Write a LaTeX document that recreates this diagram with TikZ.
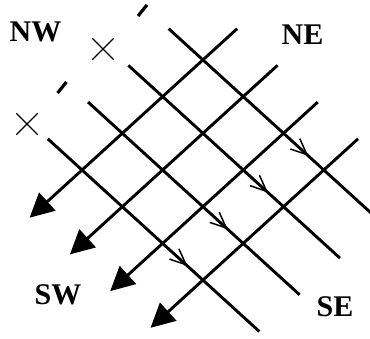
\documentclass[tikz,border=0pt]{standalone}
\usepackage{fontspec}
\setmainfont{Liberation Serif}
\usetikzlibrary{arrows.meta,decorations.markings,shapes.misc,calc}

\begin{document}
\begin{tikzpicture}[x=40.3pt,y=-36.7pt,
	ray/.style={line width=2.9pt},
	bigtip/.style={ray,-{Triangle[length=24pt,width=24pt]}},
	flow/.style={ray,postaction={decorate},
		decoration={markings,mark=at position 0.66 with {\arrow{Straight Barb[length=16pt,width=14pt,line width=1.5pt]}}}},
	crossmark/.style={draw,cross out,line width=1.3pt,minimum size=20pt,inner sep=0pt},
	notch/.style={line width=3.2pt},
	compass/.style={font=\bfseries\fontsize{30}{36}\selectfont,inner sep=0pt}]

	% frame
	\clip (-2.035,-4.632) rectangle (7.146,4.578);

	% ends of the NW-SE lines
	\coordinate (a0) at (-0.85,-0.85);
	\coordinate (a1) at (0.15,-1.85);
	\coordinate (a2) at (1.15,-2.85);
	\coordinate (a3) at (2.15,-3.85);
	\coordinate (b0) at (4.4,4.4);
	\coordinate (b1) at (5.4,3.4);
	\coordinate (b2) at (6.4,2.4);
	\coordinate (b3) at (7.4,1.4);

	% ends of the NE-SW lines
	\coordinate (c0) at (3.85,-3.85);
	\coordinate (c1) at (4.85,-2.85);
	\coordinate (c2) at (5.85,-1.85);
	\coordinate (c3) at (6.85,-0.85);
	\coordinate (d0) at (-1.3,1.3);
	\coordinate (d1) at (-0.3,2.3);
	\coordinate (d2) at (0.7,3.3);
	\coordinate (d3) at (1.7,4.3);

	% NW-SE lines
	\draw[flow] (a0)--(b0);
	\draw[flow] (a1)--(b1);
	\draw[flow] (a2)--(b2);
	\draw[flow] (a3)--(b3);

	% NE-SW lines
	\draw[bigtip] (c0)--(d0);
	\draw[bigtip] (c1)--(d1);
	\draw[bigtip] (c2)--(d2);
	\draw[bigtip] (c3)--(d3);

	% broken line
	\node[crossmark] (x0) at (-1.365,-1.253) {};
	\node[crossmark] (x1) at (0.521,-3.297) {};
	\coordinate (e0) at (-0.496,-2.248);
	\coordinate (e1) at (1.501,-4.346);
	\draw[notch] ($(e0)+(-0.11,0.15)$)--($(e0)+(0.11,-0.15)$);
	\draw[notch] ($(e1)+(-0.11,0.15)$)--($(e1)+(0.11,-0.15)$);

	% labels
	\node[compass] (nw) at (-1.154,-3.774) {NW};
	\node[compass] (ne) at (5.471,-3.692) {NE};
	\node[compass] (sw) at (-0.596,3.406) {SW};
	\node[compass] (se) at (6.278,3.719) {SE};

\end{tikzpicture}
\end{document}
